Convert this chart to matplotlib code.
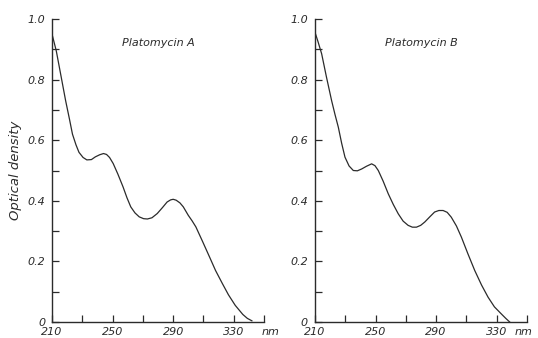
import matplotlib
matplotlib.use("Agg")
import matplotlib.pyplot as plt
from matplotlib.ticker import MultipleLocator, FixedLocator

# wavelength (nm) and optical density
wl_a = [210, 212.8, 216, 219, 221.5, 223.5, 225.8, 227.8, 230.5, 233, 236, 238.6,
        241.5, 244, 246, 248, 250.4, 253.5, 256.9, 259.5, 262, 264.8, 267.6, 270.5,
        273, 276, 279.5, 283, 286, 288.3, 290, 292, 294.5, 296.7, 300, 302.5, 305,
        309.5, 314, 318, 322.5, 326.5, 331, 336, 339, 342]
od_a = [0.95, 0.895, 0.81, 0.73, 0.67, 0.62, 0.585, 0.56, 0.543, 0.535, 0.536, 0.545,
        0.552, 0.556, 0.553, 0.543, 0.523, 0.488, 0.446, 0.41, 0.38, 0.36, 0.347, 0.341,
        0.34, 0.344, 0.358, 0.378, 0.396, 0.403, 0.405, 0.402, 0.393, 0.38, 0.352, 0.334,
        0.314, 0.265, 0.215, 0.17, 0.127, 0.09, 0.055, 0.025, 0.012, 0.004]

wl_b = [210, 212, 214.4, 217.5, 221, 223.2, 225.4, 227.6, 229.8, 232.5, 235.3, 238,
        240.8, 244, 247.4, 249.6, 251.8, 255, 258.4, 261.7, 265, 268.2, 271.5, 274.3,
        277, 279.8, 282.5, 285.8, 289, 291.8, 294.6, 297.3, 300, 303.4, 306.7, 311,
        315.5, 320, 324.3, 328.5, 333, 336, 338.6]
od_b = [0.956, 0.925, 0.885, 0.81, 0.73, 0.685, 0.643, 0.59, 0.544, 0.515, 0.5, 0.499,
        0.505, 0.514, 0.522, 0.516, 0.5, 0.465, 0.423, 0.388, 0.357, 0.333, 0.319, 0.313,
        0.313, 0.319, 0.33, 0.347, 0.363, 0.368, 0.368, 0.362, 0.346, 0.317, 0.28, 0.225,
        0.17, 0.122, 0.082, 0.05, 0.027, 0.012, 0.0]

titles = ["Platomycin A", "Platomycin B"]
x_ticks = [210, 250, 290, 330]
x_minor = [230, 270, 310, 350]
x_labels = ["210", "250", "290", "330"]
y_ticks = [0, 0.2, 0.4, 0.6, 0.8, 1.0]
y_labels = ["0", "0.2", "0.4", "0.6", "0.8", "1.0"]

ink = "#2b2b2b"
plt.rcParams["font.family"] = "DejaVu Sans"

fig = plt.figure(figsize=(5.38, 3.38), dpi=100)
ax_a = fig.add_axes([0.0967, 0.0473, 0.394, 0.8965])
ax_b = fig.add_axes([0.5855, 0.0473, 0.394, 0.8965])

panels = [(ax_a, wl_a, od_a, titles[0], 1.03), (ax_b, wl_b, od_b, titles[1], 0.985)]
for ax, wl, od, title, nm_x in panels:
    ax.plot(wl, od, color=ink, lw=0.9)
    ax.set_xlim(210, 350)
    ax.set_ylim(0, 1.0)
    for s in ["top", "right"]:
        ax.spines[s].set_visible(False)
    for s in ["left", "bottom"]:
        ax.spines[s].set_color(ink)
        ax.spines[s].set_linewidth(1.0)
    ax.set_xticks(x_ticks)
    ax.set_xticklabels(x_labels, style="italic")
    ax.xaxis.set_minor_locator(FixedLocator(x_minor))
    ax.set_yticks(y_ticks)
    ax.set_yticklabels(y_labels, style="italic")
    ax.yaxis.set_minor_locator(MultipleLocator(0.1))
    ax.tick_params(which="both", direction="in", color=ink, labelcolor=ink,
                   labelsize=8, width=0.9, length=5)
    ax.tick_params(axis="x", which="major", pad=3.5)
    ax.tick_params(axis="y", which="major", pad=5)
    ax.text(0.5, 0.92, title, transform=ax.transAxes, ha="center", va="center",
            fontsize=8, style="italic", color=ink)
    ax.annotate("nm", xy=(nm_x, 0), xycoords="axes fraction", xytext=(0, -3.5),
                textcoords="offset points", ha="center", va="top",
                fontsize=8, style="italic", color=ink)

ax_a.set_ylabel("Optical density", style="italic", fontsize=9.5, color=ink, labelpad=4)

fig.savefig("out.png", dpi=100)
